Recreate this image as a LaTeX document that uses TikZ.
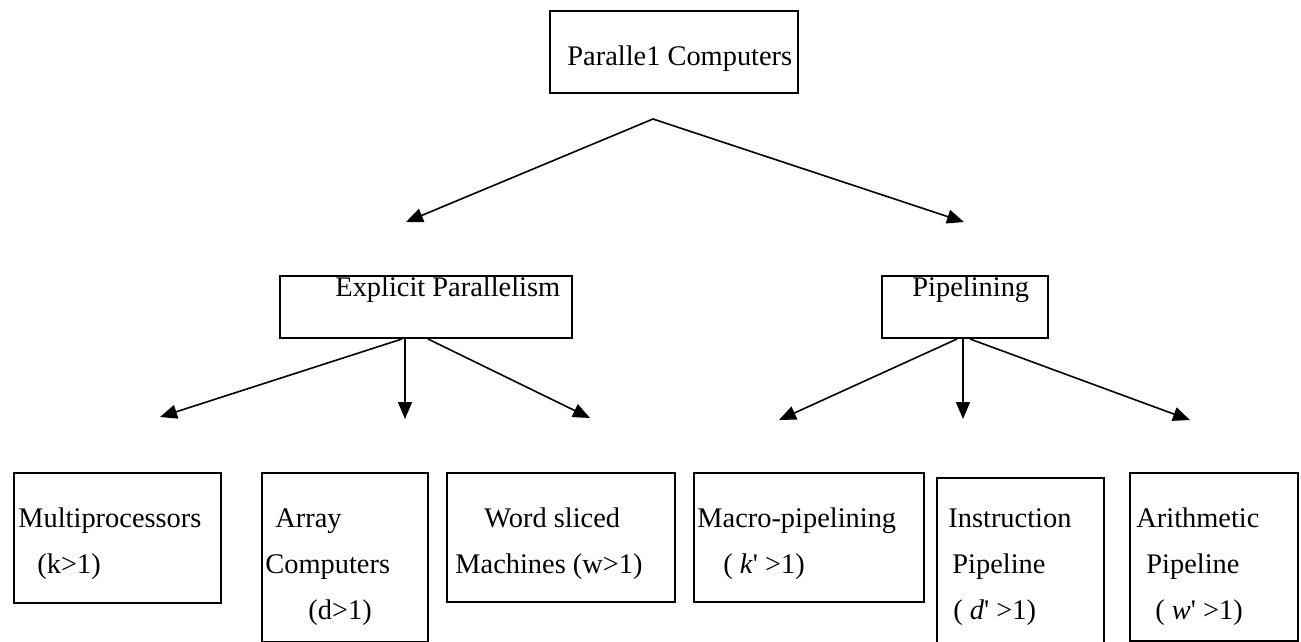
\documentclass[tikz,border=0pt]{standalone}
\usepackage{fontspec}
\setmainfont{Liberation Serif}
\usetikzlibrary{arrows.meta}
\begin{document}
\begin{tikzpicture}[x=0.5pt, y=-0.5pt,
  >={Triangle[length=8.5pt, width=7pt]},
  box/.style={draw=black, line width=1pt, inner sep=0pt, anchor=north west},
  lbl/.style={anchor=base west, inner sep=0pt, font=\fontsize{14.2}{16}\selectfont},
  link/.style={line width=0.8pt, ->},
  fork/.style={line width=0.8pt, <->, line join=miter}]
\useasboundingbox (0,0) rectangle (1301,642);

% ---- boxes ----
\node[box, minimum width=124pt, minimum height=41pt]   (pc) at (549,10)  {};
\node[box, minimum width=146pt, minimum height=31pt]   (ep) at (279,275) {};
\node[box, minimum width=83pt,  minimum height=31pt]   (pl) at (881,275) {};
\node[box, minimum width=103.5pt, minimum height=65pt] (mp) at (13,472)  {};
\node[box, minimum width=83pt,  minimum height=84.5pt] (ac) at (261,472) {};
\node[box, minimum width=114pt, minimum height=64.5pt] (ws) at (446,472) {};
\node[box, minimum width=115pt, minimum height=64.5pt] (mc) at (693,472) {};
\node[box, minimum width=83.5pt, minimum height=86pt]  (ip) at (936,477) {};
\node[box, minimum width=84pt,  minimum height=84pt]   (ap) at (1129,472) {};

% ---- labels ----
\node[lbl] (t-pc)  at (567,66)  {Paralle1 Computers};
\node[lbl] (t-ep)  at (335,296) {Explicit Parallelism};
\node[lbl] (t-pl)  at (912,296) {Pipelining};

\node[lbl] (t-mp1) at (18,527)  {Multiprocessors};
\node[lbl] (t-mp2) at (37,573)  {(k>1)};

\node[lbl] (t-ac1) at (275,527) {Array};
\node[lbl] (t-ac2) at (265,573) {Computers};
\node[lbl] (t-ac3) at (308,619) {(d>1)};

\node[lbl] (t-ws1) at (484,527) {Word sliced};
\node[lbl] (t-ws2) at (455,573) {Machines (w>1)};

\node[lbl] (t-mc1) at (697,527) {Macro-pipelining};
\node[lbl] (t-mc2) at (723,573) {( \textit{k}\textquotesingle{} >1)};

\node[lbl] (t-ip1) at (948,527) {Instruction};
\node[lbl] (t-ip2) at (952,573) {Pipeline};
\node[lbl] (t-ip3) at (953,619) {( \textit{d}\textquotesingle{} >1)};

\node[lbl] (t-ap1) at (1136,527) {Arithmetic};
\node[lbl] (t-ap2) at (1146,573) {Pipeline};
\node[lbl] (t-ap3) at (1155,619) {( \textit{w}\textquotesingle{} >1)};

% ---- connector points ----
\coordinate (apex) at (653,119);
\coordinate (to-ep) at (406,222);
\coordinate (to-pl) at (964,222);

\path (ep.south west) ++(123,0) coordinate (ep-l)
      (ep.south west) ++(126,0) coordinate (ep-m)
      (ep.south west) ++(149,0) coordinate (ep-r);
\coordinate (to-mp) at (160,417);
\coordinate (to-ac) at (405,419);
\coordinate (to-ws) at (590,418);

\path (pl.south west) ++(76,0) coordinate (pl-l)
      (pl.south west) ++(82,0) coordinate (pl-m)
      (pl.south west) ++(89,0) coordinate (pl-r);
\coordinate (to-mc) at (779,420);
\coordinate (to-ip) at (963,419);
\coordinate (to-ap) at (1190,420);

% ---- connectors ----
\draw[fork] (to-ep) -- (apex) -- (to-pl);

\draw[link] (ep-l) -- (to-mp);
\draw[link] (ep-m) -- (to-ac);
\draw[link] (ep-r) -- (to-ws);

\draw[link] (pl-l) -- (to-mc);
\draw[link] (pl-m) -- (to-ip);
\draw[link] (pl-r) -- (to-ap);
\end{tikzpicture}
\end{document}
